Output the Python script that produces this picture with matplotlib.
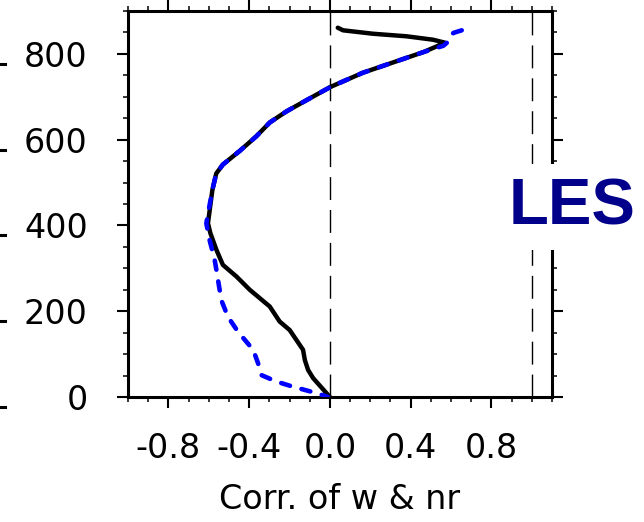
import numpy as np
import matplotlib
matplotlib.use('Agg')
import matplotlib.pyplot as plt
import matplotlib.transforms as mtransforms
from matplotlib.ticker import MultipleLocator

plt.rcParams['font.family'] = ['DejaVu Sans']

# LES profile (solid black)
z_les = [861, 855, 847, 841, 833, 826, 804, 783, 756, 723, 692, 666, 640, 608, 574,
         542, 521, 483, 437, 405, 382, 343, 308, 281, 250, 211, 176, 156, 110, 86, 63, 44, 0]
r_les = [0.039, 0.065, 0.213, 0.380, 0.511, 0.571, 0.462, 0.331, 0.163, 0.003, -0.116,
         -0.215, -0.298, -0.364, -0.446, -0.530, -0.563, -0.582, -0.595, -0.604, -0.592,
         -0.562, -0.530, -0.463, -0.397, -0.298, -0.249, -0.199, -0.133, -0.124, -0.108,
         -0.083, 0.0]

# second profile (blue dashed)
z_blue = [855, 849, 841, 829, 819, 804, 783, 756, 723, 692, 666, 640, 608, 574, 542,
          521, 483, 437, 405, 366, 320, 296, 226, 187, 152, 110, 79, 51, 36, 24, 9, 0]
r_blue = [0.653, 0.612, 0.595, 0.587, 0.562, 0.462, 0.331, 0.163, 0.003, -0.116, -0.215,
          -0.298, -0.364, -0.446, -0.530, -0.563, -0.582, -0.600, -0.612, -0.596, -0.571,
          -0.562, -0.538, -0.505, -0.455, -0.380, -0.356, -0.339, -0.265, -0.183, -0.066,
          -0.01]

xticks = [-0.8, -0.4, 0.0, 0.4, 0.8]
xticklabels = ['-0.8', '-0.4', '0.0', '0.4', '0.8']
yticks = [0, 200, 400, 600, 800]

fig = plt.figure(figsize=(6.44, 5.22), dpi=100)
ax = fig.add_axes([128 / 644, 1 - 397 / 522, (552 - 128) / 644, (397 - 11) / 522])

ax.axvline(0.0, color='black', lw=1.0, ls=(0, (16.5, 7.2)), zorder=1)
ax.axvline(1.0, color='black', lw=1.0, ls=(0, (16.5, 7.2)), zorder=1)

ax.plot(r_les, z_les, color='black', lw=3.2, solid_capstyle='round',
        solid_joinstyle='round', zorder=3)
ax.plot(r_blue, z_blue, color='#0000ff', lw=3.3, ls=(0, (2.0, 2.6)),
        dash_capstyle='round', dash_joinstyle='round', zorder=4)

ax.set_xlim(-1.0, 1.1)
ax.set_ylim(0, 900)
ax.set_xticks(xticks)
ax.set_xticklabels(xticklabels)
ax.set_yticks(yticks)
ax.xaxis.set_minor_locator(MultipleLocator(0.1))
ax.yaxis.set_minor_locator(MultipleLocator(50))

for s in ax.spines.values():
    s.set_linewidth(2.2)
ax.tick_params(which='both', direction='out', top=True, right=True,
               labeltop=False, labelright=False)
ax.tick_params(which='major', length=7.9, width=1.5, labelsize=24)
ax.tick_params(which='minor', length=3.6, width=1.1)
ax.tick_params(axis='y', which='major', pad=21)
ax.tick_params(axis='x', which='major', pad=17)

ax.set_xlabel('Corr. of w & nr', fontsize=24, labelpad=13)

ax.text(1.2, 443, 'LES', color='#00008b', fontsize=47, fontweight='bold',
        family='Liberation Sans', ha='center', va='center', clip_on=False, zorder=10,
        bbox=dict(boxstyle='square,pad=0.2', fc='white', ec='none'))

# tick stubs of the neighbouring panel, cut off at the left edge
trans = mtransforms.blended_transform_factory(fig.transFigure, ax.transData) + \
    mtransforms.ScaledTranslation(0, -10 / 100, fig.dpi_scale_trans)
for yt in yticks:
    ax.plot([0, 5 / 644], [yt, yt], color='black', lw=2.2, transform=trans, clip_on=False)

fig.savefig('out.png', dpi=100)
